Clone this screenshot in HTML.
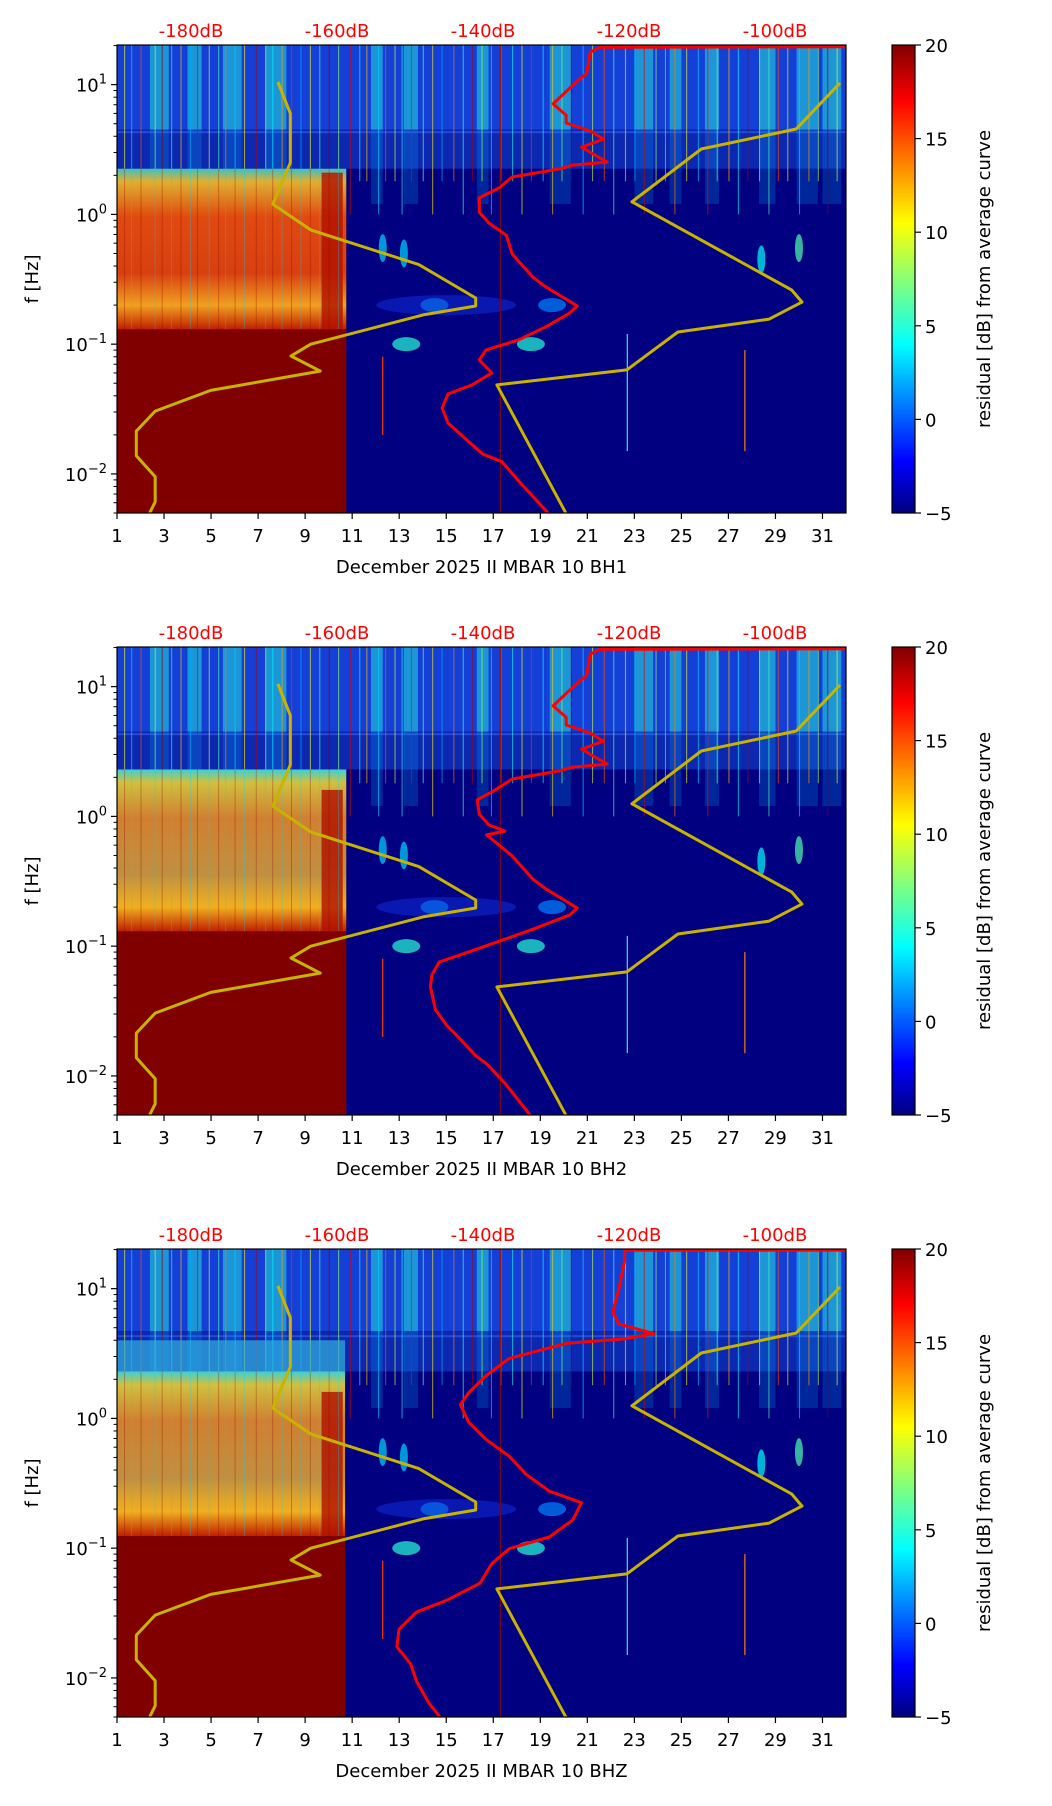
<!DOCTYPE html>
<html><head><meta charset="utf-8">
<style>
html,body{margin:0;padding:0;background:#fff;}
svg{display:block;}
text{font-family:"DejaVu Sans","Liberation Sans",sans-serif;}
</style></head>
<body>
<svg id="fig" width="1052" height="1806" viewBox="0 0 1052 1806" xmlns="http://www.w3.org/2000/svg">
<defs>
<linearGradient id="jet" x1="0" y1="1" x2="0" y2="0">
<stop offset="0" stop-color="#000080"/><stop offset="0.11" stop-color="#0000ff"/>
<stop offset="0.36" stop-color="#00ffff"/><stop offset="0.62" stop-color="#ffff00"/>
<stop offset="0.88" stop-color="#ff0000"/><stop offset="1" stop-color="#800000"/>
</linearGradient>
</defs>
</svg>
<script>
// ---- data arrays ----
const panelNames = ['BH1','BH2','BHZ'];
const xTicks = [1,3,5,7,9,11,13,15,17,19,21,23,25,27,29,31];
const yTickExps = [-2,-1,0,1];
const dbTicks = [-180,-160,-140,-120,-100];
const cbTicks = [-5,0,5,10,15,20];
const nlnmDb = [-168.1,-166.4,-166.4,-168.8,-163.6,-148.8,-141.0,-141.0,-148.2,-163.6,-166.3,-162.3,-177.3,-184.9,-187.5,-187.5,-184.9,-184.9,-185.9];
const nlnmHz = [10.5,6.0,2.5,1.2,0.76,0.41,0.227,0.197,0.168,0.1,0.081,0.062,0.044,0.0305,0.0214,0.0138,0.0095,0.0061,0.0047];
const nhnmDb = [-91.1,-97.1,-110.1,-119.6,-97.7,-96.3,-100.8,-113.3,-120.3,-138.1,-128.4];
const nhnmHz = [10.3,4.55,3.19,1.25,0.261,0.211,0.156,0.124,0.0633,0.0485,0.0047];
const avg1Db = [-90.3,-124.0,-125.3,-125.8,-127.7,-130.4,-128.6,-128.6,-125.3,-123.5,-126.5,-124.9,-123.0,-127.7,-129.5,-136.0,-137.8,-140.5,-140.5,-139.2,-136.8,-136.0,-133.2,-131.4,-127.1,-128.1,-131.4,-135.1,-139.6,-140.5,-138.8,-141.5,-144.8,-145.6,-144.8,-142.5,-140.1,-137.4,-135.1,-130.8];
const avg1Hz = [19.6,19.4,17.8,12.3,9.9,7.1,5.8,5.06,4.39,3.8,3.3,2.92,2.53,2.4,2.24,1.94,1.6,1.34,1.04,0.86,0.69,0.495,0.33,0.276,0.197,0.174,0.136,0.108,0.09,0.0755,0.06,0.0485,0.0413,0.0323,0.0247,0.0189,0.0143,0.0124,0.0088,0.0048];
const avg2Db = [-90.3,-124.0,-125.3,-125.8,-127.7,-130.4,-128.6,-128.6,-125.3,-123.5,-126.5,-124.9,-123.0,-127.7,-129.5,-136.0,-138.3,-140.8,-140.5,-139.2,-137.0,-139.5,-136.0,-133.2,-131.4,-127.1,-128.1,-133.0,-138.0,-142.0,-146.0,-147.0,-147.2,-146.5,-145.0,-143.0,-141.0,-139.5,-137.0,-133.3];
const avg2Hz = [19.6,19.4,17.8,12.3,9.9,7.1,5.8,5.06,4.39,3.8,3.3,2.92,2.53,2.4,2.24,1.94,1.6,1.34,1.04,0.86,0.77,0.72,0.495,0.33,0.276,0.197,0.174,0.136,0.108,0.09,0.0755,0.06,0.0485,0.0323,0.0247,0.0189,0.0143,0.0124,0.0088,0.0048];
const avg3Db = [-90.3,-114.5,-120.6,-120.6,-121.4,-122.2,-121.4,-116.6,-120.6,-128.5,-136.4,-139.6,-142.0,-143.1,-142.0,-139.6,-136.4,-134.1,-130.9,-126.5,-127.7,-130.9,-136.4,-138.8,-140.4,-145.1,-149.1,-151.5,-151.8,-149.9,-149.1,-147.5,-145.9];
const avg3Hz = [19.8,19.8,19.8,16.4,9.9,6.6,5.35,4.5,4.1,3.8,2.9,2.13,1.57,1.28,0.94,0.69,0.51,0.37,0.275,0.224,0.165,0.122,0.099,0.076,0.0537,0.0394,0.0322,0.0236,0.0174,0.0128,0.0094,0.0065,0.005];
const quietEndDay = [10.75,10.75,10.7];
const warmTopHz = [2.25,2.3,2.3];
const warmBottomHz = [0.13,0.13,0.124];
const bandTopHz = [4.5,4.5,4.7];
const streakDays = [1.3,1.6,2.0,2.6,2.9,3.3,3.7,4.1,4.4,4.9,5.3,5.6,6.0,6.4,6.9,7.3,7.6,8.0,8.4,8.8,9.2,9.6,10.0,10.4,10.9,11.3,11.6,12.1,12.4,12.8,13.1,13.5,14.0,14.4,14.8,15.3,15.7,16.1,16.5,16.9,17.3,17.8,18.2,18.6,19.1,19.5,19.9,20.3,20.8,21.2,21.7,22.1,22.6,23.0,23.4,23.9,24.3,24.7,25.2,25.7,26.1,26.5,27.0,27.4,27.8,28.3,28.7,29.1,29.5,30.0,30.4,30.8,31.2,31.6];
const streakLevel = [10,3,15,8,20,5,12,2,18,9,6,14,3,11,19,7,4,13,16,2,10,6,20,8,18,5,12,3,15,9,4,17,7,11,2,14,6,19,8,3,13,5,10,16,4,12,7,20,3,9,15,6,11,2,18,8,5,14,10,3,17,7,12,4,19,9,6,15,11,3,13,8,20,10];
const clusterStart = [2.4,4.0,5.5,7.3,11.8,13.2,16.3,19.4,23.0,24.5,26.0,28.3,29.9,31.0];
const clusterEnd = [3.2,4.6,6.3,8.2,12.3,13.8,16.8,20.3,23.8,25.0,26.6,29.0,30.8,31.8];
const blobDay = [13.3,18.6,14.5,19.5,12.3,13.2,28.4,30.0];
const blobHz = [0.1,0.1,0.2,0.2,0.55,0.5,0.45,0.55];
const blobLevel = [5,5,2,1,3,3,4,6];

const NS='http://www.w3.org/2000/svg';
const svg=document.getElementById('fig');
const L=117,R=846,H=468,FMAX=20.2,FMIN=0.005;
const tops=[45,647,1249];
function jet(v){
  let t=Math.max(0,Math.min(1,(v+5)/25));
  const st=[[0,0,0,128],[0.11,0,0,255],[0.36,0,255,255],[0.62,255,255,0],[0.88,255,0,0],[1,128,0,0]];
  for(let i=1;i<st.length;i++){ if(t<=st[i][0]){const a=st[i-1],b=st[i];const u=(t-a[0])/(b[0]-a[0]);
    return 'rgb('+[1,2,3].map(k=>Math.round(a[k]+(b[k]-a[k])*u)).join(',')+')';}}
  return 'rgb(128,0,0)';
}
function el(tag,attrs,parent){const e=document.createElementNS(NS,tag);for(const k in attrs)e.setAttribute(k,attrs[k]);(parent||svg).appendChild(e);return e;}

tops.forEach((T,p)=>{
  const X=d=>L+(d-1)*(R-L)/31;
  const Y=f=>T+(Math.log10(FMAX)-Math.log10(f))*H/Math.log10(FMAX/FMIN);
  const XD=db=>191+(db+180)*7.3;
  const g=el('g',{});
  
  
  const cp=el('clipPath',{id:'clip'+p},g);el('rect',{x:L,y:T,width:R-L,height:H},cp);
  const hm=el('g',{'clip-path':'url(#clip'+p+')'},g);
  
  
  el('rect',{x:L,y:T,width:R-L,height:H,fill:jet(-5)},hm);
  const yb=Y(warmTopHz[p]);
  el('rect',{x:L,y:T,width:R-L,height:Y(bandTopHz[p])-T,fill:'#1540d8'},hm);
  el('rect',{x:L,y:Y(bandTopHz[p]),width:R-L,height:yb-Y(bandTopHz[p]),fill:'#0c28b0'},hm);
  el('rect',{x:L,y:Y(4.3)-1,width:R-L,height:2,fill:'#3a70ff',opacity:0.5},hm);
  clusterStart.forEach((s,i)=>{
    const r=el('rect',{x:X(s),y:T,width:X(clusterEnd[i])-X(s),height:Y(bandTopHz[p])-T,fill:jet(5),opacity:0.45},hm);
    
    el('rect',{x:X(s),y:Y(bandTopHz[p]),width:X(clusterEnd[i])-X(s),height:Y(1.2)-Y(bandTopHz[p]),fill:jet(2),opacity:0.22},hm);
  });
  streakDays.forEach((d,i)=>{
    const s=el('rect',{x:X(d),y:T,width:1.1,height:Y(i%3==0?1.0:1.8)-T,fill:jet(streakLevel[i]),opacity:0.6},hm);
    
  });
  const xq=X(quietEndDay[p]);
  const wid='warm'+p;
  const lg=el('linearGradient',{id:wid,x1:0,y1:0,x2:0,y2:1},g);
  const warmStops = p==0 ? [[0,'#40c0c0'],[0.08,'#e0b030'],[0.3,'#e04a10'],[0.65,'#d84010'],[0.85,'#f0a020'],[1,'#c02000']]
                         : [[0,'#40d0d0'],[0.08,'#d0c040'],[0.3,'#d08030'],[0.65,'#c09040'],[0.85,'#f0b020'],[1,'#c02000']];
  warmStops.forEach(s=>el('stop',{offset:s[0],'stop-color':s[1]},lg));
  if(p==2){ el('rect',{x:L,y:Y(4.0),width:xq-L,height:yb-Y(4.0),fill:'#30b0e0',opacity:0.7},hm); }
  const w=el('rect',{x:L,y:yb,width:xq-L,height:Y(warmBottomHz[p])-yb,fill:'url(#'+wid+')'},hm);
  
  el('rect',{x:X(9.7),y:Y(p==0?2.1:1.6),width:X(10.6)-X(9.7),height:Y(warmBottomHz[p])-Y(p==0?2.1:1.6),fill:'#b01000',opacity:0.8},hm);
  streakDays.filter(d=>d<quietEndDay[p]).forEach((d,i)=>{
    el('rect',{x:X(d),y:yb,width:1,height:Y(warmBottomHz[p])-yb,fill:jet(i%2?3:20),opacity:0.3},hm);
  });
  const dr=el('rect',{x:L,y:Y(warmBottomHz[p]),width:xq-L,height:T+H-Y(warmBottomHz[p]),fill:jet(20)},hm);
  
  blobDay.forEach((d,i)=>{
    const b=el('ellipse',{cx:X(d),cy:Y(blobHz[i]),rx:i<4?14:4,ry:i<4?7:14,fill:jet(blobLevel[i]),opacity:0.7},hm);
    
  });
  el('ellipse',{cx:X(15),cy:Y(0.2),rx:70,ry:10,fill:'#1030e0',opacity:0.5},hm);
  el('line',{x1:X(12.3),y1:Y(0.08),x2:X(12.3),y2:Y(0.02),stroke:'#ff4000','stroke-width':1.2},hm);
  el('line',{x1:X(22.7),y1:Y(0.12),x2:X(22.7),y2:Y(0.015),stroke:'#40e0ff','stroke-width':1.2},hm);
  el('line',{x1:X(27.7),y1:Y(0.09),x2:X(27.7),y2:Y(0.015),stroke:'#ff8000','stroke-width':1.2},hm);
  el('line',{x1:X(17.3),y1:T,x2:X(17.3),y2:T+H,stroke:'#900000','stroke-width':1},hm);
  const poly=(dbs,hzs,color,w,name)=>{
    const pts=dbs.map((db,i)=>XD(db).toFixed(1)+','+Y(hzs[i]).toFixed(1)).join(' ');
    const pl=el('polyline',{points:pts,fill:'none',stroke:color,'stroke-width':w,'stroke-linejoin':'round'},hm);
    
  };
  poly(nlnmDb,nlnmHz,'#c8b400',3,'low-noise-model');
  poly(nhnmDb,nhnmHz,'#c8b400',3,'high-noise-model');
  poly([avg1Db,avg2Db,avg3Db][p],[avg1Hz,avg2Hz,avg3Hz][p],'#ff0000',3,'average-psd-curve');
  const fr=el('rect',{x:L,y:T,width:R-L,height:H,fill:'none',stroke:'#000','stroke-width':1.2},g);
  
  xTicks.forEach(d=>{
    el('line',{x1:X(d),y1:T+H,x2:X(d),y2:T+H+6,stroke:'#000','stroke-width':1.2},g);
    const t=el('text',{x:X(d),y:T+H+29,'font-size':18,'text-anchor':'middle'},g);t.textContent=d;
    
  });
  const xl=el('text',{x:(L+R)/2,y:T+H+60,'font-size':18,'text-anchor':'middle'},g);
  xl.textContent='December 2025 II MBAR 10 '+panelNames[p];
  
  yTickExps.forEach(e=>{
    const y=Y(Math.pow(10,e));
    el('line',{x1:L-6,y1:y,x2:L,y2:y,stroke:'#000','stroke-width':1.2},g);
    const t=el('text',{x:L-10,y:y+7,'font-size':18,'text-anchor':'end'},g);
    
    const ts=el('tspan',{},t);ts.textContent='10';
    const sp=el('tspan',{dy:-8,'font-size':13},t);sp.textContent=(e<0?'\u2212':'')+Math.abs(e);
    for(let m=2;m<=9;m++){const fm=m*Math.pow(10,e);if(fm<=FMAX&&fm>=FMIN){const ym=Y(fm);el('line',{x1:L-3.5,y1:ym,x2:L,y2:ym,stroke:'#000','stroke-width':1},g);}}
  });
  for(let m=5;m<=9;m++){const ym=Y(m*0.001);el('line',{x1:L-3.5,y1:ym,x2:L,y2:ym,stroke:'#000','stroke-width':1},g);}
  const yl=el('text',{x:0,y:0,'font-size':18,'text-anchor':'middle',transform:'translate(38,'+(T+H/2)+') rotate(-90)'},g);
  yl.textContent='f [Hz]';
  dbTicks.forEach(db=>{
    const t=el('text',{x:XD(db),y:T-8,'font-size':18,'text-anchor':'middle',fill:'#ff0000'},g);t.textContent=db+'dB';
    
  });
  const cb=el('rect',{x:892,y:T,width:23,height:H,fill:'url(#jet)',stroke:'#000','stroke-width':1.2},g);
  
  const CY=v=>T+H-(v+5)/25*H;
  cbTicks.forEach(v=>{
    el('line',{x1:915,y1:CY(v),x2:921,y2:CY(v),stroke:'#000','stroke-width':1.2},g);
    const t=el('text',{x:925,y:CY(v)+7,'font-size':18},g);t.textContent=(v<0?'\u2212':'')+Math.abs(v);
    
  });
  const cl=el('text',{x:0,y:0,'font-size':18,'text-anchor':'middle',transform:'translate(990,'+(T+H/2)+') rotate(-90)'},g);
  cl.textContent='residual [dB] from average curve';
  
});
</script>
</body></html>
